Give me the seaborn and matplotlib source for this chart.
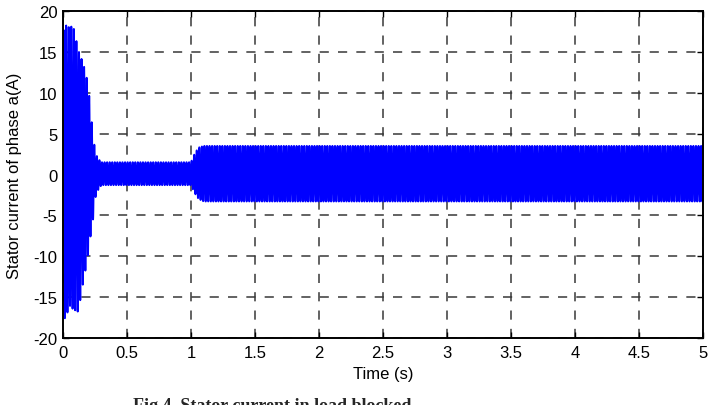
import numpy as np
import pandas as pd
import matplotlib
matplotlib.use("Agg")
import matplotlib.pyplot as plt
import seaborn as sns

# ---- data ----
# envelope breakpoints of the phase-a stator current (time in s, current in A)
env_time = [0.0, 0.02, 0.05, 0.08, 0.12, 0.16, 0.19, 0.21, 0.23, 0.25, 0.27, 0.30,
            0.60, 1.00, 1.03, 1.06, 1.10, 2.00, 3.00, 4.00, 5.00]
env_upper = [17.5, 18.3, 18.0, 18.2, 15.2, 13.5, 11.5, 9.0, 5.5, 3.0, 2.0, 1.5,
             1.5, 1.5, 2.6, 3.3, 3.5, 3.5, 3.5, 3.5, 3.5]
env_lower = [-17.0, -17.8, -16.0, -16.5, -16.8, -13.0, -10.5, -8.0, -6.3, -3.0, -2.0, -1.3,
             -1.3, -1.3, -2.3, -3.0, -3.3, -3.3, -3.3, -3.3, -3.3]
supply_freq = 50.0          # Hz
sample_step = 0.00037       # s, simulation output step

x_ticks = [0, 0.5, 1, 1.5, 2, 2.5, 3, 3.5, 4, 4.5, 5]
x_ticklabels = ["0", "0.5", "1", "1.5", "2", "2.5", "3", "3.5", "4", "4.5", "5"]
y_ticks = [-20, -15, -10, -5, 0, 5, 10, 15, 20]
y_ticklabels = ["-20", "-15", "-10", "-5", "0", "5", "10", "15", "20"]

x_label = "Time (s)"
y_label = "Stator current of phase a(A)"
caption = "Fig.4. Stator current in load blocked"

# ---- build the signal ----
t = np.arange(0.0, 5.0 + sample_step / 2, sample_step)
up = np.interp(t, env_time, env_upper)
lo = np.interp(t, env_time, env_lower)
mid = (up + lo) / 2
amp = (up - lo) / 2
current = mid + amp * np.sin(2 * np.pi * supply_freq * t)
df = pd.DataFrame({"time": t, "current": current})

# ---- plot ----
sns.set_theme(style="white")
plt.rcParams["font.family"] = ["Liberation Sans", "DejaVu Sans"]
plt.rcParams["path.simplify"] = False

fig = plt.figure(figsize=(7.14, 4.06), dpi=100)
ax = fig.add_axes([0.0882, 0.165, 0.8964, 0.8054])
ax.set_axisbelow(True)

sns.lineplot(data=df, x="time", y="current", ax=ax, color="#0000ff",
             linewidth=1.4, estimator=None, sort=False, errorbar=None, zorder=3)

ax.set_xlim(0, 5)
ax.set_ylim(-20, 20)
ax.set_xticks(x_ticks)
ax.set_xticklabels(x_ticklabels)
ax.set_yticks(y_ticks)
ax.set_yticklabels(y_ticklabels)
ax.tick_params(axis="both", which="both", direction="in", length=4, width=1,
               top=True, right=True, bottom=True, left=True,
               labelsize=12, colors="black")
ax.tick_params(axis="x", pad=5)
ax.tick_params(axis="y", pad=4)
ax.grid(True, color="#383838", linestyle=(0, (6, 6)), linewidth=1.1, zorder=0)
for s in ax.spines.values():
    s.set_visible(True)
    s.set_color("black")
    s.set_linewidth(1.4)
    s.set_zorder(4)
ax.set_xlabel(x_label, fontsize=12, labelpad=4, color="black")
ax.set_ylabel(y_label, fontsize=12, labelpad=8, color="black")

fig.text(133 / 714, -0.012, caption, fontsize=13, fontweight="bold",
         family=["Liberation Serif", "DejaVu Serif"], ha="left", va="baseline")

fig.savefig("out.png", dpi=100)
